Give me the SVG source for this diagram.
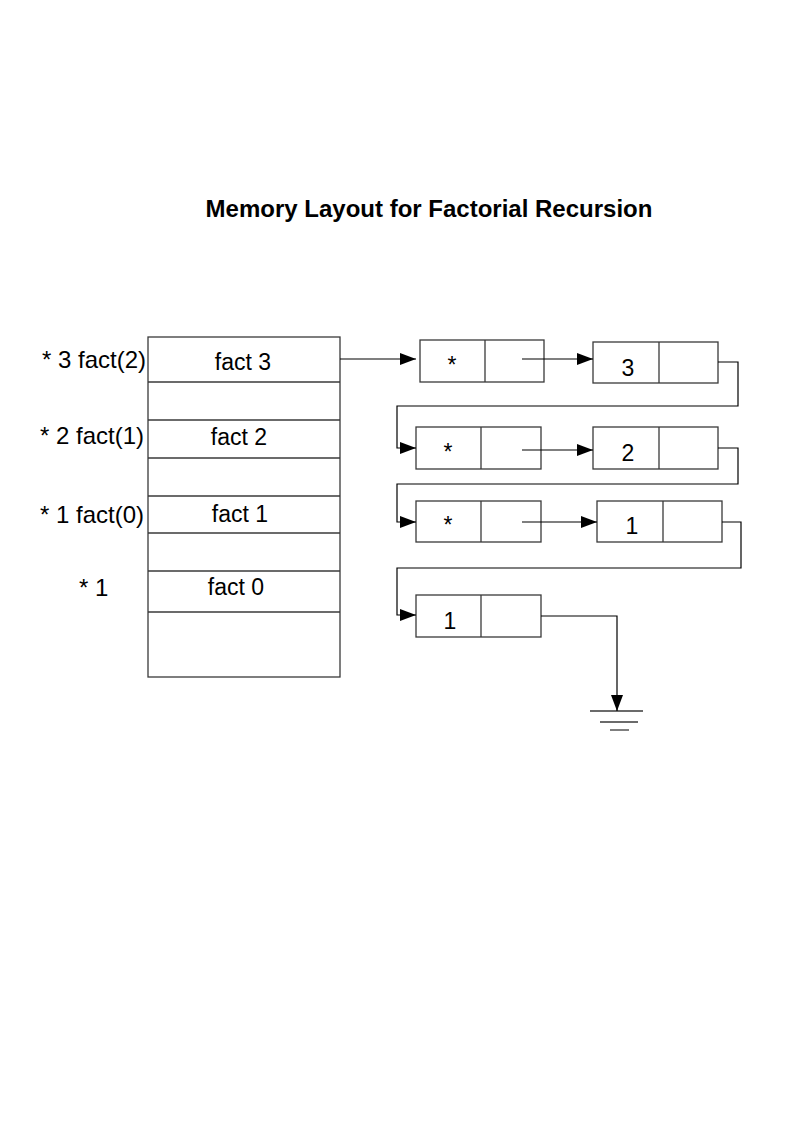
<svg xmlns="http://www.w3.org/2000/svg" width="794" height="1123" viewBox="0 0 794 1123">
<style>
.t{font-family:"Liberation Sans",Arial,sans-serif;font-size:23px;fill:#000}
.lb{font-size:24px}
.c{text-anchor:middle}
.title{font-family:"Liberation Sans",Arial,sans-serif;font-size:24px;font-weight:bold;text-anchor:middle;fill:#000}
.box{fill:#fff;stroke:#3a3a3a;stroke-width:1.3}
.ln{fill:none;stroke:#3a3a3a;stroke-width:1.3}
.ar{fill:none;stroke:#000;stroke-width:1.2;marker-end:url(#ah)}
</style>
<defs>
<marker id="ah" markerWidth="16" markerHeight="12" refX="16" refY="6" orient="auto" markerUnits="userSpaceOnUse">
<path d="M0,0 L16,6 L0,12 Z" fill="#000"/>
</marker>
</defs>
<rect width="794" height="1123" fill="#fff"/>
<text class="title" x="429" y="217">Memory Layout for Factorial Recursion</text>

<g id="stack">
<rect class="box" x="148" y="337" width="192" height="340"/>
<line class="ln" x1="148" y1="382" x2="340" y2="382"/>
<line class="ln" x1="148" y1="420" x2="340" y2="420"/>
<line class="ln" x1="148" y1="458" x2="340" y2="458"/>
<line class="ln" x1="148" y1="496" x2="340" y2="496"/>
<line class="ln" x1="148" y1="533" x2="340" y2="533"/>
<line class="ln" x1="148" y1="571" x2="340" y2="571"/>
<line class="ln" x1="148" y1="612" x2="340" y2="612"/>
<text class="t c" x="243" y="370">fact 3</text>
<text class="t c" x="239" y="445">fact 2</text>
<text class="t c" x="240" y="522">fact 1</text>
<text class="t c" x="236" y="595">fact 0</text>
</g>

<g id="labels">
<text class="t lb" x="42" y="368">* 3 fact(2)</text>
<text class="t lb" x="40" y="444">* 2 fact(1)</text>
<text class="t lb" x="40" y="523">* 1 fact(0)</text>
<text class="t lb" x="79" y="596">* 1</text>
</g>

<g id="nodeA">
<rect class="box" x="420" y="340" width="124" height="42"/>
<line class="ln" x1="485" y1="340" x2="485" y2="382"/>
<text class="t c" x="452" y="373">*</text>
</g>
<g id="nodeB">
<rect class="box" x="593" y="342" width="125" height="41"/>
<line class="ln" x1="659" y1="342" x2="659" y2="383"/>
<text class="t c" x="628" y="376">3</text>
</g>
<g id="nodeC">
<rect class="box" x="416" y="427" width="125" height="42"/>
<line class="ln" x1="481" y1="427" x2="481" y2="469"/>
<text class="t c" x="448" y="460">*</text>
</g>
<g id="nodeD">
<rect class="box" x="593" y="427" width="125" height="42"/>
<line class="ln" x1="659" y1="427" x2="659" y2="469"/>
<text class="t c" x="628" y="461">2</text>
</g>
<g id="nodeE">
<rect class="box" x="416" y="501" width="125" height="41"/>
<line class="ln" x1="481" y1="501" x2="481" y2="542"/>
<text class="t c" x="448" y="533">*</text>
</g>
<g id="nodeF">
<rect class="box" x="597" y="501" width="125" height="41"/>
<line class="ln" x1="663" y1="501" x2="663" y2="542"/>
<text class="t c" x="632" y="534">1</text>
</g>
<g id="nodeG">
<rect class="box" x="416" y="595" width="125" height="42"/>
<line class="ln" x1="481" y1="595" x2="481" y2="637"/>
<text class="t c" x="450" y="629">1</text>
</g>

<g id="ground">
<line class="ln" x1="590" y1="711" x2="643" y2="711"/>
<line class="ln" x1="600" y1="722" x2="638" y2="722"/>
<line class="ln" x1="610" y1="730" x2="629" y2="730"/>
</g>

<g id="connectors">
<line class="ar" x1="340" y1="359" x2="416" y2="359"/>
<line class="ar" x1="522" y1="359" x2="593" y2="359"/>
<polyline class="ar" points="718,362 738,362 738,406 397,406 397,448 416,448"/>
<line class="ar" x1="522" y1="450" x2="593" y2="450"/>
<polyline class="ar" points="718,448 738,448 738,484 397,484 397,522 416,522"/>
<line class="ar" x1="522" y1="522" x2="597" y2="522"/>
<polyline class="ar" points="722,522 741,522 741,568 397,568 397,615 416,615"/>
<polyline class="ar" points="541,616 617,616 617,711"/>
</g>
</svg>
